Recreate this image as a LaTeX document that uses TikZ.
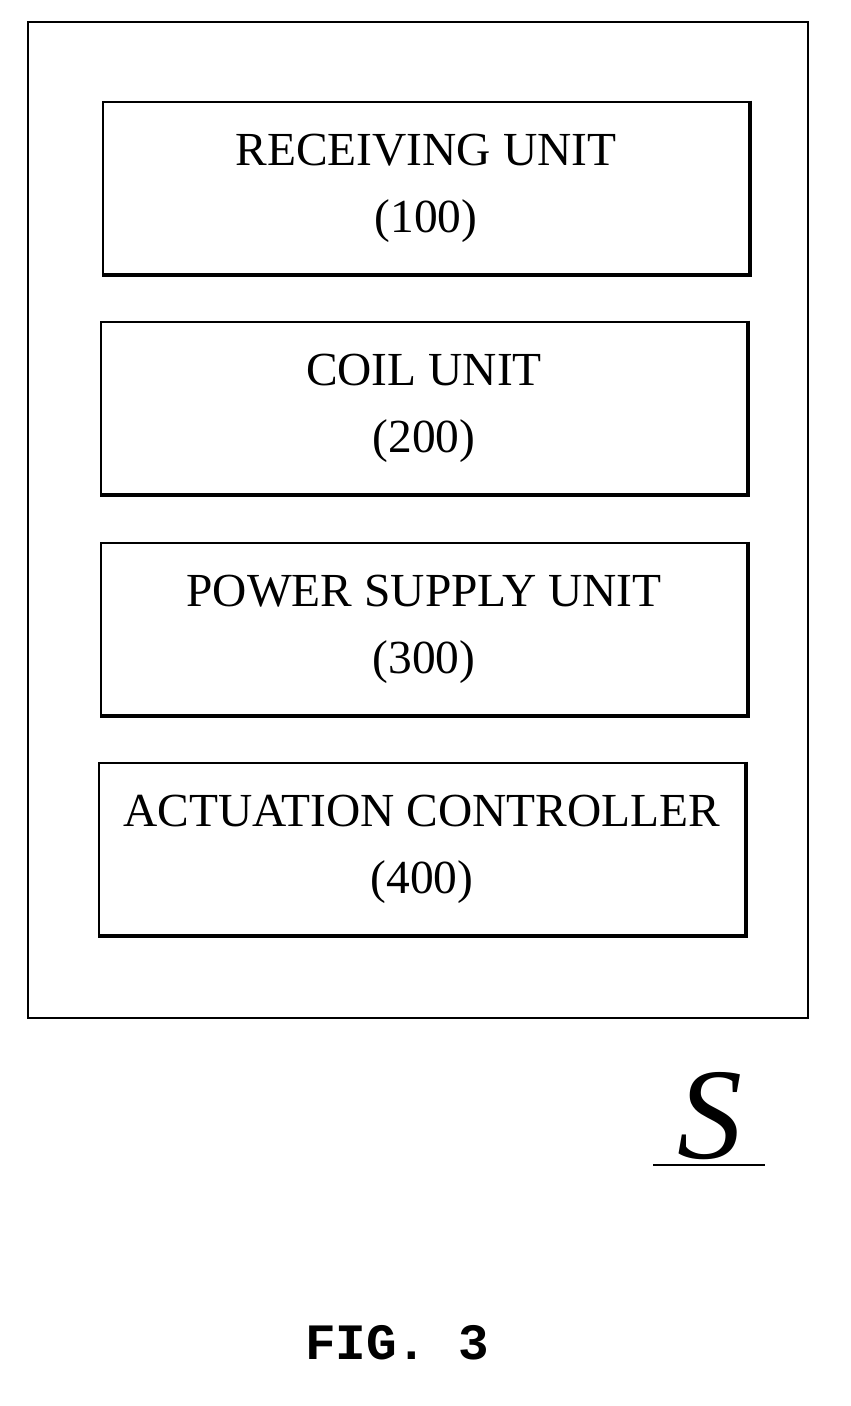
\documentclass[tikz,border=0pt]{standalone}
\usepackage{fontspec}
\setmainfont{Liberation Serif}
\setmonofont{Liberation Mono}
\begin{document}
\begin{tikzpicture}[
    x=0.02cm, y=-0.02cm,
    unit/.style={rectangle, draw, line width=1.2pt, minimum width=12.92cm, minimum height=3.45cm,
        align=center, font=\fontsize{27}{38}\selectfont, inner sep=0pt},
    shade/.style={draw, line width=2.2pt}
]
\useasboundingbox (0,0) rectangle (850,1406);

% outer frame
\node[draw, line width=1.5pt, minimum width=15.6cm, minimum height=19.92cm] (frame) at (418,520) {};

% units
\node[unit] (receiving) at (426,188) {RECEIVING UNIT\\(100)};
\node[unit] (coil) at (424,408) {COIL UNIT\\(200)};
\node[unit] (power) at (424,629) {POWER SUPPLY UNIT\\(300)};
\node[unit] (actuation) at (422,849) {ACTUATION CONTROLLER\\(400)};

% shadow edges
\foreach \n in {receiving,coil,power,actuation}
  \draw[shade] (\n.north east) -- (\n.south east) -- (\n.south west);

% label
\node[font=\fontsize{74}{74}\selectfont\itshape] (label) at (710,1116) {S};
\draw[line width=1.2pt] (653,1165) -- (765,1165);

\node[font=\fontsize{29}{29}\selectfont\ttfamily\bfseries] (caption) at (397,1343) {FIG. 3};
\end{tikzpicture}
\end{document}
